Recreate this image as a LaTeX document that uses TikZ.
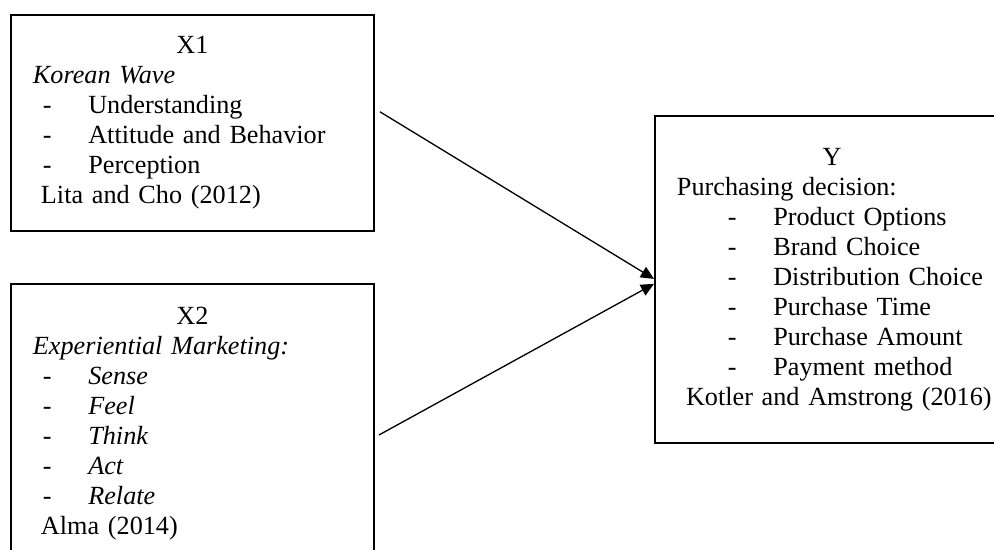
\documentclass[tikz,border=0pt]{standalone}
\usepackage{fontspec}
\setmainfont{Liberation Serif}
\usetikzlibrary{arrows.meta}

\newcommand{\dashitem}[2]{\hspace*{#1}\makebox[0.73cm][l]{-}#2}

\begin{document}
\begin{tikzpicture}[
  varbox/.style={draw, line width=0.9pt, anchor=north west, inner xsep=0pt, inner ysep=0pt,
    align=left, font=\fontsize{12}{13.74}\selectfont},
  link/.style={-{Triangle[length=6pt, width=5.5pt]}, line width=0.6pt}]
  \path[use as bounding box, clip] (0, 0) rectangle (16, -8.837);

  \node[varbox, minimum width=5.843cm, minimum height=3.477cm, text width=5.843cm] (x1) at (0.161, -0.225) {%
    \makebox[5.843cm]{X1}\\
    \hspace*{0.354cm}\textit{Korean Wave}\\
    \dashitem{0.515cm}{Understanding}\\
    \dashitem{0.515cm}{Attitude and Behavior}\\
    \dashitem{0.515cm}{Perception}\\
    \hspace*{0.483cm}Lita and Cho (2012)};

  \node[varbox, minimum width=5.843cm, minimum height=4.491cm, text width=5.843cm] (x2) at (0.161, -4.555) {%
    \makebox[5.843cm]{X2}\\
    \hspace*{0.354cm}\textit{Experiential Marketing:}\\
    \dashitem{0.515cm}{\textit{Sense}}\\
    \dashitem{0.515cm}{\textit{Feel}}\\
    \dashitem{0.515cm}{\textit{Think}}\\
    \dashitem{0.515cm}{\textit{Act}}\\
    \dashitem{0.515cm}{\textit{Relate}}\\
    \hspace*{0.483cm}Alma (2014)};

  \node[varbox, minimum width=5.698cm, minimum height=5.264cm, text width=5.698cm] (yvar) at (10.527, -1.851) {%
    \makebox[5.698cm]{Y}\\
    \hspace*{0.354cm}Purchasing decision:\\
    \dashitem{1.175cm}{Product Options}\\
    \dashitem{1.175cm}{Brand Choice}\\
    \dashitem{1.175cm}{Distribution Choice}\\
    \dashitem{1.175cm}{Purchase Time}\\
    \dashitem{1.175cm}{Purchase Amount}\\
    \dashitem{1.175cm}{Payment method}\\
    \hspace*{0.5cm}Kotler and Amstrong (2016)};

  \draw[link] ([xshift=0.08cm, yshift=0.18cm]x1.east) -- ([yshift=0.01cm]yvar.west);
  \draw[link] ([xshift=0.065cm, yshift=-0.185cm]x2.east) -- ([yshift=-0.07cm]yvar.west);
\end{tikzpicture}
\end{document}
